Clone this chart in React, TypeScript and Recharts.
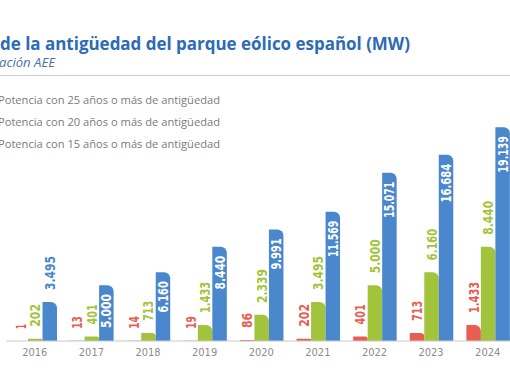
import React from 'react';
import { BarChart, Bar, XAxis, YAxis, LabelList } from 'recharts';

const years = ['2016', '2017', '2018', '2019', '2020', '2021', '2022', '2023', '2024'];
const p25 = [1, 13, 14, 19, 86, 202, 401, 713, 1433];
const p20 = [202, 401, 713, 1433, 2339, 3495, 5000, 6160, 8440];
const p15 = [3495, 5000, 6160, 8440, 9991, 11569, 15071, 16684, 19139];
const legendLabels = [
  'Potencia con 25 años o más de antigüedad',
  'Potencia con 20 años o más de antigüedad',
  'Potencia con 15 años o más de antigüedad',
];
const titleText = 'de la antigüedad del parque eólico español (MW)';
const subtitleText = 'ación AEE';

const RED = '#ea5d52';
const GREEN = '#a2c43c';
const BLUE = '#4a87cc';
const NUM_FONT = '"Liberation Sans Narrow", "DejaVu Sans Condensed", sans-serif';

const data = years.map((y, i) => ({ year: y, p25: p25[i], p20: p20[i], p15: p15[i] }));

const fmt = (v: number) => String(v).replace(/\B(?=(\d{3})+(?!\d))/g, '.');
const textLen = (s: string) =>
  s.split('').reduce((a, c) => a + (c === '.' ? 3.4 : c === '1' ? 5 : 7.6), 0);

const makeLabel = (color: string, allowInside: boolean) => (props: any) => {
  const vb = props.viewBox || {};
  const x = Number(props.x ?? vb.x);
  const y = Number(props.y ?? vb.y);
  const w = Number(props.width ?? vb.width);
  const h = Number(props.height ?? vb.height);
  const v = Number(props.value);
  const s = fmt(v);
  const cx = x + w / 2;
  const top = h >= 0 ? y : y + h;
  const inside = allowInside && Math.abs(h) > 45;
  const common = {
    fontSize: 14,
    fontWeight: 'bold' as const,
    fontFamily: NUM_FONT,
    dominantBaseline: 'central' as const,
    textLength: textLen(s),
    lengthAdjust: 'spacingAndGlyphs' as const,
  };
  if (inside) {
    const ay = top + 9;
    return (
      <text x={cx} y={ay} transform={`rotate(-90, ${cx}, ${ay})`} textAnchor="end" fill="#ffffff" {...common}>{s}</text>
    );
  }
  const ay = top - 12;
  return (
    <text x={cx} y={ay} transform={`rotate(-90, ${cx}, ${ay})`} textAnchor="start" fill={color} {...common}>{s}</text>
  );
};

export default function App() {
  return (
    <div style={{ position: 'absolute', left: 0, top: 0, width: 510, height: 382, overflow: 'hidden', background: '#fff' }}>
      <div style={{ position: 'absolute', left: 0, top: 0 }}>
        <BarChart width={520} height={382} data={data} margin={{ top: 117.6, right: 4, bottom: 11, left: 6.5 }} barGap={0} barSize={14.5}>
          <XAxis dataKey="year" height={30} tickLine={false} tickSize={6} tickMargin={1}
            axisLine={{ stroke: '#c9c9c9', strokeWidth: 1 }}
            tick={{ fill: '#8c8c8c', fontSize: 11, fontFamily: NUM_FONT }} interval={0} />
          <YAxis hide domain={[0, 20000]} />
          <Bar dataKey="p25" fill={RED} radius={[0, 6, 0, 0]} isAnimationActive={false}>
            <LabelList dataKey="p25" content={makeLabel(RED, false)} />
          </Bar>
          <Bar dataKey="p20" fill={GREEN} radius={[0, 6, 0, 0]} isAnimationActive={false}>
            <LabelList dataKey="p20" content={makeLabel(GREEN, false)} />
          </Bar>
          <Bar dataKey="p15" fill={BLUE} radius={[0, 6, 0, 0]} isAnimationActive={false}>
            <LabelList dataKey="p15" content={makeLabel(BLUE, true)} />
          </Bar>
        </BarChart>
      </div>
      <svg width={510} height={382} style={{ position: 'absolute', left: 0, top: 0, pointerEvents: 'none' }}>
        <text x={0} y={50} fill="#2d6bb3" fontSize={18} fontWeight="bold" fontFamily='"Open Sans", sans-serif'
          textLength={410} lengthAdjust="spacingAndGlyphs">{titleText}</text>
        <text x={-1} y={66.5} fill="#4d72a8" fontSize={12} fontStyle="italic" fontFamily='"Open Sans", sans-serif'
          textLength={56} lengthAdjust="spacingAndGlyphs">{subtitleText}</text>
        <line x1={0} x2={510} y1={75.5} y2={75.5} stroke="#cfcfcf" strokeWidth={1} />
        {legendLabels.map((t, i) => (
          <text key={t} x={-2} y={104 + i * 22} fill="#7a7a7a" fontSize={11.5} fontFamily='"Open Sans", sans-serif'
            textLength={222} lengthAdjust="spacingAndGlyphs">{t}</text>
        ))}
      </svg>
    </div>
  );
}
